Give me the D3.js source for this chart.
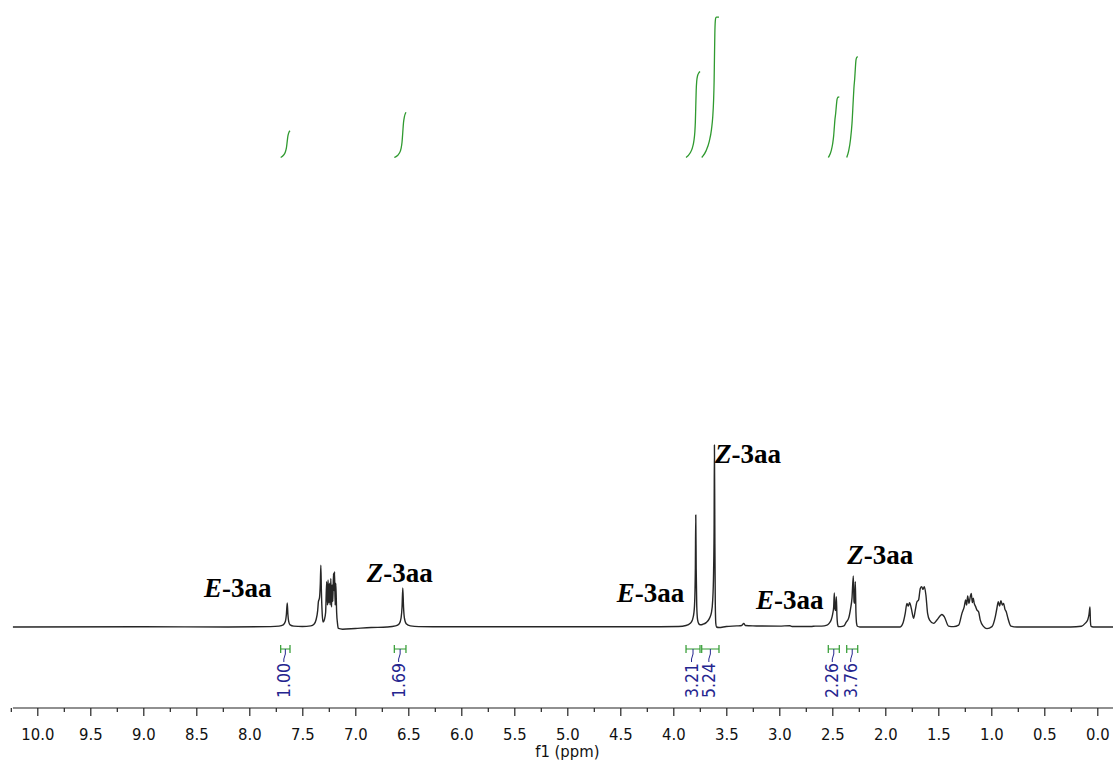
<!DOCTYPE html>
<html>
<head>
<meta charset="utf-8">
<script src="https://cdn.jsdelivr.net/npm/d3@7/dist/d3.min.js"></script>
<style>
  html, body { margin: 0; padding: 0; background: #fff; }
  svg { display: block; }
</style>
</head>
<body>
<svg id="chart" width="1113" height="762"></svg>
<script>
// ---------- DATA ----------
// 1H NMR trace: [chemical shift (ppm), relative intensity]
const spectrum = [
  [10.23,0],[9.0,0.1],[8.2,0],[7.80,0.2],
  [7.72,0.5],[7.68,1.2],[7.660,3],[7.650,7],[7.642,13.2],[7.636,7],[7.628,3],[7.615,1.2],[7.58,0.5],[7.50,0.3],
  [7.42,0.6],[7.39,1.5],[7.37,4],[7.355,9],[7.348,13.9],[7.338,16],[7.330,24],[7.325,34],[7.320,20],[7.312,7],[7.304,2.7],[7.292,4],[7.280,8],
  [7.270,24.9],[7.262,12],[7.257,25.8],[7.250,13],[7.244,24],[7.237,12],[7.231,26.7],[7.224,11],[7.219,23.1],[7.212,14],[7.206,29.5],[7.200,20],[7.196,30.4],[7.190,12],[7.184,24],[7.176,8],[7.168,2],[7.160,-0.8],[7.12,-1.2],[7.00,-0.8],[6.85,-0.3],[6.70,0],
  [6.62,0.6],[6.585,1.8],[6.568,5],[6.559,11],[6.552,21.4],[6.545,11],[6.537,5],[6.52,1.8],[6.48,0.6],[6.40,0.2],[6.0,0.1],[5.0,0.1],[4.3,0.1],[3.95,0.3],
  [3.88,0.8],[3.84,2],[3.82,3.8],[3.805,8],[3.797,16],[3.792,32],[3.788,61.5],[3.784,32],[3.779,12],[3.771,4],[3.760,1.8],[3.745,1.2],
  [3.72,1.5],[3.69,2.4],[3.66,4.6],[3.64,8],[3.628,15],[3.620,30],[3.615,55],[3.612,100],[3.608,50],[3.604,14],[3.599,2],[3.592,0],[3.57,-0.3],[3.50,0.3],[3.40,0.6],[3.355,0.8],[3.335,2],[3.32,0.8],[3.25,0.6],[3.0,0.5],[2.90,0.7],[2.88,0.3],[2.70,0.3],[2.66,0.5],[2.60,0.5],
  [2.55,1],[2.53,2],[2.51,4],[2.497,7],[2.487,11],[2.481,18.7],[2.475,10],[2.468,9],[2.462,16.6],[2.456,6],[2.450,1.5],[2.443,0.3],[2.42,0.2],[2.39,0.6],
  [2.37,2.5],[2.345,5],[2.328,10],[2.314,16],[2.302,28],[2.295,14],[2.289,13],[2.283,24.9],[2.277,8],[2.271,2],[2.263,0.4],[2.24,0],[2.10,0],[1.90,0],
  [1.859,0],[1.834,2],[1.812,7.5],[1.796,13],[1.783,11.5],[1.771,13.4],[1.755,10.3],[1.733,4.8],[1.717,9.3],[1.701,13.9],[1.686,14.8],[1.670,21.2],[1.657,22.2],[1.645,20.7],[1.632,22.2],[1.617,17.6],[1.601,7.5],[1.582,3.8],[1.544,2],[1.513,3.8],[1.466,6.9],[1.444,5.7],[1.403,0.5],[1.356,0.2],[1.308,1],
  [1.277,7.5],[1.255,11.2],[1.242,14.8],[1.233,12],[1.223,17],[1.211,13],[1.198,16.7],[1.189,18.5],[1.179,13.4],[1.170,15.8],[1.161,13],[1.148,11.2],[1.135,9.3],[1.120,8.4],[1.104,3.8],[1.072,0.2],[1.041,-0.9],[0.994,0.2],
  [0.962,5.7],[0.947,10.3],[0.934,13.9],[0.922,11.5],[0.909,14.5],[0.896,12],[0.884,13],[0.871,9.7],[0.859,8.4],[0.843,4.8],[0.815,0.5],[0.758,0],[0.5,0],[0.25,0],
  [0.15,0.4],[0.115,2],[0.09,4],[0.078,7],[0.069,11],[0.065,3],[0.058,0.3],[0.04,0],[-0.16,0]
];

// Integration regions: [from ppm, to ppm] and integral value label
const integralFrom  = [7.704, 6.632, 3.880, 3.732, 2.538, 2.364];
const integralTo    = [7.616, 6.522, 3.748, 3.569, 2.434, 2.260];
const integralValue = [1.00, 1.69, 3.21, 5.24, 2.26, 3.76];

// Peak assignment annotations (anchor: left edge ppm, baseline intensity)
const annoIsomer = ["E", "Z", "E", "Z", "E", "Z"];
const annoName   = ["-3aa", "-3aa", "-3aa", "-3aa", "-3aa", "-3aa"];
const annoPpm    = [8.427, 6.892, 4.534, 3.607, 3.220, 2.358];
const annoInt    = [16.6, 24.9, 13.9, 89.9, 9.7, 34.6];

// Axis ticks
const majorTicks = [10.0, 9.5, 9.0, 8.5, 8.0, 7.5, 7.0, 6.5, 6.0, 5.5, 5.0, 4.5, 4.0, 3.5, 3.0, 2.5, 2.0, 1.5, 1.0, 0.5, 0.0];
const tickLabels = ["10.0","9.5","9.0","8.5","8.0","7.5","7.0","6.5","6.0","5.5","5.0","4.5","4.0","3.5","3.0","2.5","2.0","1.5","1.0","0.5","0.0"];
const minorTicks = [10.25, 9.75, 9.25, 8.75, 8.25, 7.75, 7.25, 6.75, 6.25, 5.75, 5.25, 4.75, 4.25, 3.75, 3.25, 2.75, 2.25, 1.75, 1.25, 0.75, 0.25];
const axisTitle = "f1 (ppm)";

// ---------- DRAWING ----------
const svg = d3.select("#chart");
const W = 1113, H = 762;

const x = d3.scaleLinear().domain([10, 0]).range([37.3, 1097.3]);
const y = d3.scaleLinear().domain([0, 100]).range([627, 445]);
const yInt = d3.scaleLinear().domain([0, 1]).range([157.5, 130.7]);

const condensed = "'DejaVu Sans Condensed', 'DejaVu Sans', sans-serif";

// spectrum line
const line = d3.line()
  .x(d => x(d[0]))
  .y(d => y(d[1]))
  .curve(d3.curveMonotoneX);

svg.append("path")
  .datum(spectrum)
  .attr("d", line)
  .attr("fill", "none")
  .attr("stroke", "#262626")
  .attr("stroke-width", 1.4)
  .attr("stroke-linejoin", "round");

// interpolate the trace linearly at a given ppm (for integration)
function intensityAt(p) {
  for (let i = 0; i < spectrum.length - 1; i++) {
    const a = spectrum[i], b = spectrum[i + 1];
    if (p <= a[0] && p >= b[0]) {
      const t = (a[0] - p) / (a[0] - b[0]);
      return a[1] + t * (b[1] - a[1]);
    }
  }
  return 0;
}

// integral curves (cumulative of the trace over each region, scaled to the value)
const intLine = d3.line()
  .x(d => x(d[0]))
  .y(d => yInt(d[1]))
  .curve(d3.curveMonotoneX);

integralValue.forEach((val, i) => {
  const hi = integralFrom[i], lo = integralTo[i];
  const pts = [hi];
  spectrum.forEach(d => { if (d[0] < hi && d[0] > lo) pts.push(d[0]); });
  pts.push(lo);
  let cum = 0;
  const c = [[pts[0], 0]];
  for (let k = 1; k < pts.length; k++) {
    const dp = pts[k - 1] - pts[k];
    cum += Math.max(0, (intensityAt(pts[k - 1]) + intensityAt(pts[k])) / 2) * dp;
    c.push([pts[k], cum]);
  }
  const scaled = c.map(d => [d[0], d[1] / cum * val]);
  svg.append("path")
    .datum(scaled)
    .attr("d", intLine)
    .attr("fill", "none")
    .attr("stroke", "#2f9a2f")
    .attr("stroke-width", 1.3);
});

// integration brackets and labels
const bracketY = 649;
const gInt = svg.append("g");
integralValue.forEach((val, i) => {
  const x1 = x(integralFrom[i]), x2 = x(integralTo[i]);
  const xm = (x1 + x2) / 2;
  const g = gInt.append("g");
  g.append("path")
    .attr("d", `M${x1},${bracketY - 4}V${bracketY + 4}M${x1},${bracketY}H${x2}M${x2},${bracketY - 4}V${bracketY + 4}`)
    .attr("stroke", "#2f9a2f").attr("stroke-width", 1.2).attr("fill", "none");
  const lx = xm - 1.5;
  g.append("path")
    .attr("d", `M${xm},${bracketY}V${bracketY + 5}L${lx},${bracketY + 10}V${bracketY + 13}`)
    .attr("stroke", "#25258f").attr("stroke-width", 1).attr("fill", "none");
  g.append("text")
    .attr("transform", `translate(${lx},${bracketY + 14}) rotate(-90)`)
    .attr("text-anchor", "end")
    .attr("dominant-baseline", "central")
    .attr("font-family", condensed)
    .attr("font-size", "17.5px")
    .attr("fill", "#25258f")
    .text(val.toFixed(2));
});

// annotations
annoIsomer.forEach((iso, i) => {
  const t = svg.append("text")
    .attr("x", x(annoPpm[i]))
    .attr("y", y(annoInt[i]))
    .attr("font-family", "'Liberation Serif', 'Times New Roman', serif")
    .attr("font-weight", "bold")
    .attr("font-size", "27px")
    .attr("fill", "#000");
  t.append("tspan").attr("font-style", "italic").text(iso);
  t.append("tspan").text(annoName[i]);
});

// axis
const axisY = 708;
const gAxis = svg.append("g").attr("transform", `translate(0,${axisY})`);
gAxis.append("line")
  .attr("x1", x(10.23)).attr("x2", W)
  .attr("stroke", "#222").attr("stroke-width", 1.2);

const majorAxis = d3.axisBottom(x)
  .tickValues(majorTicks)
  .tickFormat((d, i) => tickLabels[i])
  .tickSize(8)
  .tickPadding(12);
const gMaj = gAxis.append("g").call(majorAxis);
gMaj.select(".domain").remove();
gMaj.selectAll(".tick line").attr("stroke", "#222").attr("stroke-width", 1.2);
gMaj.selectAll(".tick text")
  .attr("font-family", condensed)
  .attr("font-size", "16.5px")
  .attr("fill", "#111");

const minorAxis = d3.axisBottom(x)
  .tickValues(minorTicks)
  .tickFormat("")
  .tickSize(4);
const gMin = gAxis.append("g").call(minorAxis);
gMin.select(".domain").remove();
gMin.selectAll(".tick line").attr("stroke", "#222").attr("stroke-width", 1.2);

svg.append("text")
  .attr("x", x(5.0))
  .attr("y", 757)
  .attr("text-anchor", "middle")
  .attr("font-family", condensed)
  .attr("font-size", "16.5px")
  .attr("fill", "#111")
  .text(axisTitle);
</script>
</body>
</html>
